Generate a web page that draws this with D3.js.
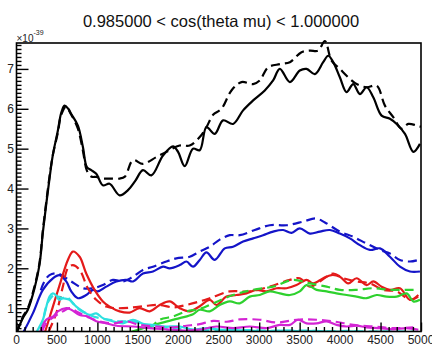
<!DOCTYPE html>
<html>
<head>
<meta charset="utf-8">
<script src="https://cdn.jsdelivr.net/npm/d3@7"></script>
<style>
  html, body { margin: 0; padding: 0; background: #fff; }
  svg { display: block; font-family: "Liberation Sans", Arial, Helvetica, sans-serif; }
</style>
</head>
<body>
<svg id="chart" width="432" height="345"></svg>
<script>
// Cross-section curves vs. energy, in units of 1e-39, for 0.985 < cos(theta_mu) < 1.
const titleText = "0.985000 < cos(theta mu) < 1.000000";
const xTickValues = [0, 500, 1000, 1500, 2000, 2500, 3000, 3500, 4000, 4500, 5000];
const yTickValues = [1, 2, 3, 4, 5, 6, 7];
const xDomain = [0, 5000];
const yDomain = [0.415, 7.65];

const blackSolid = [[0,0.38],[78,0.75],[140,0.96],[223,1.5],[285,2.1],[326,2.9],[367,3.6],[408,4.25],[450,4.85],[511,5.45],[553,5.9],[594,6.08],[640,6.0],[677,5.87],[759,5.58],[821,5.04],[870,4.54],[924,4.46],[986,4.37],[1068,4.08],[1151,4.12],[1275,3.83],[1378,3.96],[1470,4.2],[1563,4.46],[1667,4.33],[1811,4.83],[1935,5.06],[1997,4.92],[2079,4.56],[2182,5.0],[2265,4.96],[2348,5.54],[2450,5.37],[2554,5.71],[2677,5.62],[2801,5.96],[2925,6.21],[3069,6.46],[3172,6.71],[3255,7.0],[3379,6.67],[3502,6.96],[3585,7.0],[3688,6.87],[3791,7.17],[3853,7.33],[3915,7.17],[3997,6.79],[4080,6.42],[4162,6.62],[4245,6.37],[4328,6.54],[4410,6.29],[4513,5.83],[4616,5.75],[4699,5.62],[4802,5.37],[4905,4.92],[4987,5.12]];
const blackDashed = [[0,0.38],[78,0.78],[140,1.0],[223,1.55],[285,2.15],[326,2.95],[367,3.65],[408,4.3],[450,4.85],[511,5.4],[553,5.85],[610,6.05],[677,5.85],[759,5.5],[821,4.95],[870,4.45],[924,4.3],[986,4.29],[1068,4.25],[1151,4.25],[1275,4.25],[1340,4.3],[1440,4.71],[1563,4.62],[1729,4.79],[1853,4.92],[2017,5.08],[2141,5.08],[2265,5.29],[2348,5.54],[2430,5.85],[2533,6.0],[2657,6.46],[2781,6.67],[2925,6.62],[3007,6.71],[3110,7.04],[3255,7.12],[3379,7.17],[3523,7.42],[3626,7.46],[3729,7.46],[3812,7.7],[3894,7.21],[3997,7.0],[4100,6.79],[4204,6.62],[4328,6.54],[4452,6.58],[4554,6.08],[4657,5.79],[4761,5.5],[4843,5.62],[4946,5.58],[5000,5.55]];
const blueSolid = [[0,0.1],[78,0.37],[202,0.87],[326,1.46],[450,1.75],[532,1.83],[615,1.67],[677,1.42],[759,1.25],[862,1.33],[945,1.46],[1006,1.42],[1110,1.54],[1234,1.67],[1358,1.71],[1440,1.67],[1563,1.87],[1687,1.92],[1811,2.04],[1894,2.0],[2017,2.08],[2100,2.17],[2182,2.04],[2265,2.21],[2348,2.4],[2450,2.21],[2574,2.5],[2677,2.54],[2801,2.67],[2925,2.75],[3048,2.83],[3172,2.92],[3296,2.96],[3400,2.89],[3502,3.0],[3626,2.87],[3750,2.92],[3874,2.96],[3997,2.87],[4121,2.75],[4245,2.58],[4369,2.46],[4493,2.5],[4616,2.29],[4740,2.04],[4864,1.92],[4987,1.92]];
const blueDashed = [[300,1.45],[340,1.65],[408,1.83],[511,1.87],[615,1.75],[677,1.67],[821,1.5],[945,1.5],[1068,1.58],[1192,1.71],[1316,1.67],[1440,1.79],[1563,1.96],[1687,2.04],[1853,2.17],[1976,2.25],[2141,2.29],[2265,2.42],[2389,2.54],[2512,2.72],[2636,2.83],[2760,2.83],[2945,2.96],[3131,3.08],[3338,3.08],[3543,3.17],[3700,3.25],[3812,3.15],[3997,2.92],[4162,2.79],[4328,2.62],[4493,2.46],[4616,2.37],[4740,2.21],[4864,2.17],[4967,2.21]];
const redSolid = [[300,0.1],[347,0.37],[450,1.04],[553,1.71],[635,2.21],[697,2.42],[780,2.29],[862,1.87],[965,1.46],[1068,1.17],[1151,1.04],[1275,0.92],[1398,0.89],[1522,1.0],[1646,0.92],[1770,1.08],[1894,1.17],[2017,1.0],[2141,0.92],[2265,1.05],[2389,1.21],[2471,1.08],[2595,1.29],[2719,1.33],[2842,1.37],[2966,1.46],[3090,1.42],[3214,1.5],[3338,1.5],[3461,1.58],[3585,1.71],[3667,1.62],[3791,1.75],[3894,1.83],[3997,1.79],[4100,1.62],[4204,1.75],[4328,1.58],[4410,1.67],[4513,1.54],[4616,1.46],[4740,1.5],[4864,1.21],[4967,1.33]];
const redDashed = [[330,0.1],[388,0.37],[491,0.87],[573,1.54],[635,2.0],[697,2.08],[780,1.96],[882,1.5],[986,1.21],[1110,1.04],[1234,1.0],[1440,1.02],[1605,1.06],[1770,1.08],[1935,1.02],[2100,1.08],[2265,1.17],[2389,1.25],[2636,1.42],[2883,1.42],[3131,1.54],[3379,1.71],[3502,1.75],[3626,1.54],[3750,1.67],[3915,1.87],[4039,1.75],[4204,1.67],[4369,1.62],[4534,1.46],[4699,1.42],[4864,1.21],[4967,1.29]];
const greenSolid = [[1300,0.3],[1440,0.42],[1600,0.52],[1770,0.62],[2017,0.75],[2182,0.85],[2265,0.96],[2389,0.92],[2512,1.08],[2636,1.17],[2760,1.12],[2883,1.29],[3007,1.33],[3131,1.42],[3255,1.37],[3379,1.33],[3502,1.42],[3585,1.58],[3709,1.46],[3833,1.42],[3956,1.37],[4080,1.33],[4204,1.29],[4328,1.25],[4452,1.33],[4575,1.29],[4699,1.29],[4823,1.37],[4905,1.17],[4987,1.21]];
const greenDashed = [[1500,0.3],[1650,0.5],[1770,0.71],[1935,0.79],[2100,0.92],[2265,0.98],[2430,1.12],[2677,1.33],[2925,1.46],[3172,1.54],[3420,1.71],[3626,1.62],[3833,1.54],[3997,1.46],[4204,1.46],[4410,1.5],[4616,1.46],[4823,1.46],[4967,1.46]];
const cyanSolid = [[200,0.1],[243,0.37],[326,0.71],[408,1.29],[450,1.37],[511,1.29],[573,1.25],[656,1.21],[739,1.04],[821,0.92],[903,0.83],[986,0.87],[1068,0.75],[1192,0.67],[1316,0.62],[1440,0.71],[1563,0.61],[1687,0.58],[1853,0.54],[2017,0.54],[2182,0.46],[2348,0.5],[2512,0.46],[2700,0.45],[2900,0.44],[3100,0.42],[3300,0.44],[3500,0.42],[3700,0.43],[3900,0.41],[4100,0.42],[4300,0.4],[4500,0.41],[4700,0.4],[5000,0.39]];
const cyanDashed = [[280,0.1],[330,0.7],[367,1.04],[408,1.21],[470,1.33],[532,1.21],[615,1.29],[697,1.12],[780,0.96],[903,0.83],[1027,0.75],[1151,0.71],[1275,0.67],[1440,0.67],[1605,0.58],[1770,0.54],[1935,0.5],[2100,0.46],[2300,0.45],[2600,0.44],[2900,0.45],[3200,0.43],[3500,0.44],[3800,0.42],[4100,0.43],[4400,0.41],[4700,0.42],[5000,0.4]];
const magentaSolid = [[240,0.1],[285,0.37],[367,0.71],[450,0.79],[511,0.92],[615,1.0],[677,0.96],[780,0.83],[882,0.79],[986,0.67],[1110,0.62],[1234,0.56],[1440,0.54],[1646,0.5],[1853,0.47],[2100,0.44],[2265,0.46],[2471,0.54],[2677,0.5],[2883,0.54],[3090,0.5],[3255,0.58],[3379,0.58],[3481,0.71],[3585,0.62],[3709,0.62],[3833,0.67],[3956,0.58],[4080,0.54],[4204,0.56],[4328,0.52],[4493,0.5],[4657,0.47],[4823,0.5],[4967,0.46]];
const magentaDashed = [[260,0.1],[305,0.37],[367,0.62],[470,0.79],[573,0.92],[656,1.0],[739,0.92],[862,0.79],[1027,0.67],[1192,0.62],[1358,0.67],[1522,0.58],[1729,0.54],[1935,0.52],[2100,0.56],[2265,0.6],[2430,0.68],[2600,0.66],[2760,0.72],[3007,0.71],[3214,0.64],[3461,0.71],[3709,0.71],[3915,0.67],[4162,0.58],[4410,0.54],[4657,0.5],[4905,0.52]];

const seriesList = [
  { data: blackSolid,    color: "#000000", dashed: false },
  { data: blackDashed,   color: "#000000", dashed: true },
  { data: blueSolid,     color: "#1414c8", dashed: false },
  { data: blueDashed,    color: "#1414c8", dashed: true },
  { data: redSolid,      color: "#e41a1a", dashed: false },
  { data: redDashed,     color: "#e41a1a", dashed: true },
  { data: greenSolid,    color: "#2ed12e", dashed: false },
  { data: greenDashed,   color: "#2ed12e", dashed: true },
  { data: cyanSolid,     color: "#2ee0e0", dashed: false },
  { data: cyanDashed,    color: "#2ee0e0", dashed: true },
  { data: magentaSolid,  color: "#d424d4", dashed: false },
  { data: magentaDashed, color: "#d424d4", dashed: true }
];

const frame = { left: 16.5, right: 421, top: 43, bottom: 331.5 };
const svg = d3.select("#chart");

const x = d3.scaleLinear().domain(xDomain).range([frame.left, frame.right]);
const y = d3.scaleLinear().domain(yDomain).range([frame.bottom, frame.top]);

// Curves are cut at the frame bottom but may poke slightly over the top.
svg.append("defs").append("clipPath").attr("id", "plotClip")
  .append("rect")
  .attr("x", frame.left).attr("y", frame.top - 10)
  .attr("width", frame.right - frame.left)
  .attr("height", frame.bottom - frame.top + 10);

const line = d3.line()
  .x(d => x(d[0]))
  .y(d => y(d[1]))
  .curve(d3.curveCatmullRom.alpha(0.5));

const plot = svg.append("g").attr("clip-path", "url(#plotClip)");
plot.selectAll("path.series")
  .data(seriesList)
  .join("path")
  .attr("class", "series")
  .attr("d", s => line(s.data))
  .attr("fill", "none")
  .attr("stroke", s => s.color)
  .attr("stroke-width", 2.2)
  .attr("stroke-linejoin", "round")
  .attr("stroke-dasharray", s => s.dashed ? "9,5" : null);

// Frame
svg.append("rect")
  .attr("x", frame.left).attr("y", frame.top)
  .attr("width", frame.right - frame.left)
  .attr("height", frame.bottom - frame.top)
  .attr("fill", "none").attr("stroke", "#000").attr("stroke-width", 1.6);

// X axis: ticks pointing into the frame
const xAxis = d3.axisTop(x)
  .tickValues(d3.range(0, 5001, 100))
  .tickSize(0)
  .tickFormat("");
const gx = svg.append("g").attr("transform", `translate(0,${frame.bottom})`).call(xAxis);
gx.select(".domain").remove();
gx.selectAll(".tick line")
  .attr("stroke", "#000").attr("stroke-width", 1.4)
  .attr("y2", d => (d % 500 === 0 ? -9 : -4.5));
svg.append("g").selectAll("text")
  .data(xTickValues)
  .join("text")
  .attr("x", d => x(d))
  .attr("y", 343.5)
  .attr("text-anchor", "middle")
  .attr("font-size", 12)
  .attr("fill", "#222")
  .text(d => d);

// Y axis: ticks pointing into the frame
const yMinor = d3.range(5, 77).map(v => v / 10);
const yAxis = d3.axisRight(y).tickValues(yMinor).tickSize(0).tickFormat("");
const gy = svg.append("g").attr("transform", `translate(${frame.left},0)`).call(yAxis);
gy.select(".domain").remove();
gy.selectAll(".tick line")
  .attr("stroke", "#000").attr("stroke-width", 1.4)
  .attr("x2", d => (Math.abs(d - Math.round(d)) < 1e-6 ? 12 : 5));
svg.append("g").selectAll("text")
  .data(yTickValues)
  .join("text")
  .attr("x", 14)
  .attr("y", d => y(d) + 4.5)
  .attr("text-anchor", "end")
  .attr("font-size", 12)
  .attr("fill", "#222")
  .text(d => d);

// Exponent label
const expo = svg.append("text").attr("x", 16.5).attr("y", 41.5).attr("font-size", 10).attr("fill", "#222");
expo.append("tspan").text("×10");
expo.append("tspan").attr("dy", -7).attr("font-size", 7).text("-39");

// Title
svg.append("text")
  .attr("x", 221).attr("y", 26.5)
  .attr("text-anchor", "middle")
  .attr("font-size", 16.5)
  .attr("fill", "#111")
  .text(titleText);
</script>
</body>
</html>
